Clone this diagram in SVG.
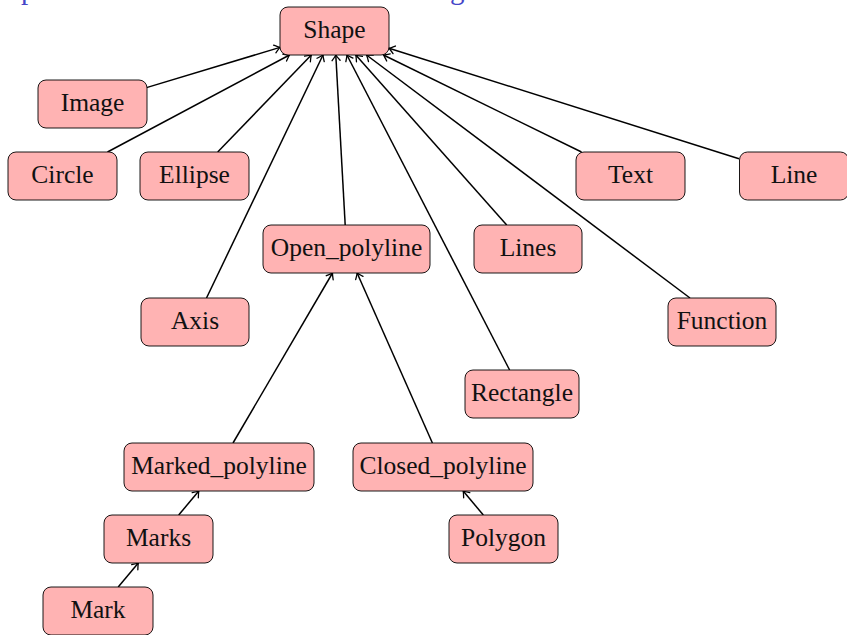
<svg xmlns="http://www.w3.org/2000/svg" width="847" height="635" viewBox="0 0 847 635">
<defs>
<style>
.node rect{fill:#ffb3b3;stroke:#000;stroke-width:0.9}
.node text{font-family:"Liberation Serif","Times New Roman",serif;font-size:25.5px;fill:#111;text-anchor:middle}
.edges line{stroke:#000;stroke-width:1.5;marker-end:url(#arr)}
.title{font-family:"Liberation Serif",serif;font-size:29px;fill:#4545c8}
</style>
<marker id="arr" viewBox="-7 -5 9 10" markerWidth="9" markerHeight="10" refX="0" refY="0" orient="auto" markerUnits="userSpaceOnUse">
<path d="M-5.5,-4 Q-1.5,-0.8 0,0 Q-1.5,0.8 -5.5,4" fill="none" stroke="#000" stroke-width="1.3" stroke-linecap="round"/>
</marker>
</defs>
<rect width="847" height="635" fill="#fff"/>
<text class="title" x="21" y="-1">p</text>
<text class="title" x="450" y="-1">g</text>
<g class="edges">
<line x1="146.5" y1="87.6" x2="280" y2="47.4"/>
<line x1="107.5" y1="152" x2="289.5" y2="55"/>
<line x1="217.7" y1="152" x2="311.3" y2="55"/>
<line x1="206.5" y1="298" x2="323" y2="55"/>
<line x1="345.2" y1="225" x2="335.8" y2="55"/>
<line x1="509.6" y1="370" x2="346.9" y2="55"/>
<line x1="506.7" y1="225" x2="355.8" y2="55"/>
<line x1="690" y1="298" x2="366.5" y2="55"/>
<line x1="581.5" y1="152" x2="383.5" y2="55"/>
<line x1="739" y1="158.8" x2="389" y2="48.2"/>
<line x1="233" y1="443" x2="332.5" y2="273"/>
<line x1="432.4" y1="443" x2="357.1" y2="273"/>
<line x1="178.7" y1="515" x2="198.8" y2="491"/>
<line x1="483.3" y1="515" x2="463.2" y2="491"/>
<line x1="118.2" y1="587" x2="138.3" y2="563"/>
</g>
<g id="shape" class="node"><rect x="280" y="7" width="109" height="48" rx="8"/><text x="334.5" y="38">Shape</text></g>
<g id="image" class="node"><rect x="38" y="80" width="109" height="48" rx="8"/><text x="92.5" y="111">Image</text></g>
<g id="circle" class="node"><rect x="8" y="152" width="109" height="48" rx="8"/><text x="62.5" y="183">Circle</text></g>
<g id="ellipse" class="node"><rect x="140" y="152" width="109" height="48" rx="8"/><text x="194.5" y="183">Ellipse</text></g>
<g id="text" class="node"><rect x="576" y="152" width="109" height="48" rx="8"/><text x="630.5" y="183">Text</text></g>
<g id="line" class="node"><rect x="739.5" y="152" width="109" height="48" rx="8"/><text x="794" y="183">Line</text></g>
<g id="open_polyline" class="node"><rect x="263" y="225" width="167" height="48" rx="8"/><text x="346.5" y="256">Open_polyline</text></g>
<g id="lines" class="node"><rect x="474" y="225" width="108" height="48" rx="8"/><text x="528" y="256">Lines</text></g>
<g id="axis" class="node"><rect x="141" y="298" width="108" height="48" rx="8"/><text x="195" y="329">Axis</text></g>
<g id="function" class="node"><rect x="668" y="298" width="108" height="48" rx="8"/><text x="722" y="329">Function</text></g>
<g id="rectangle" class="node"><rect x="465" y="370" width="114" height="48" rx="8"/><text x="522" y="401">Rectangle</text></g>
<g id="marked_polyline" class="node"><rect x="124" y="443" width="190" height="48" rx="8"/><text x="219" y="474">Marked_polyline</text></g>
<g id="closed_polyline" class="node"><rect x="353" y="443" width="180" height="48" rx="8"/><text x="443" y="474">Closed_polyline</text></g>
<g id="marks" class="node"><rect x="104" y="515" width="109" height="48" rx="8"/><text x="158.5" y="546">Marks</text></g>
<g id="polygon" class="node"><rect x="449" y="515" width="109" height="48" rx="8"/><text x="503.5" y="546">Polygon</text></g>
<g id="mark" class="node"><rect x="43" y="587" width="110" height="48" rx="8"/><text x="98" y="618">Mark</text></g>
</svg>
